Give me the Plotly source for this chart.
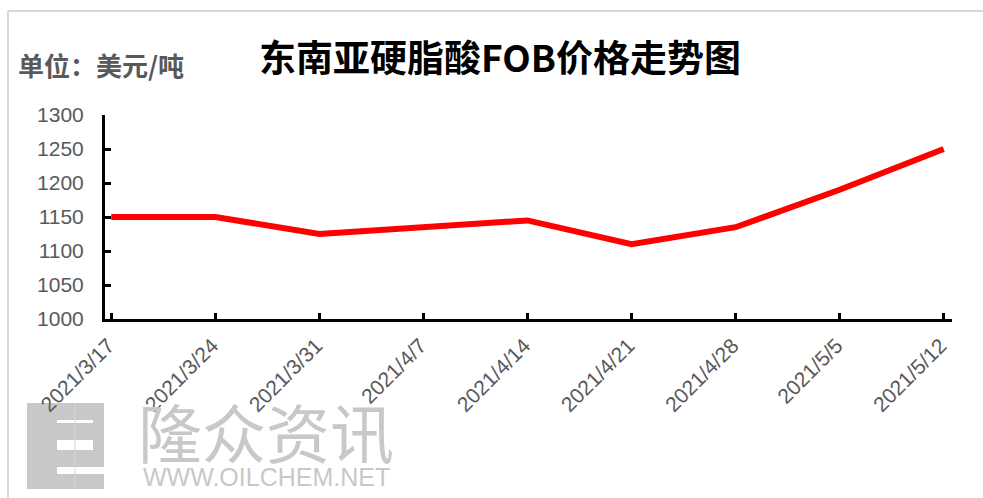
import plotly.graph_objects as go

# ---- data ----
dates = ["2021/3/17", "2021/3/24", "2021/3/31", "2021/4/7", "2021/4/14",
         "2021/4/21", "2021/4/28", "2021/5/5", "2021/5/12"]
prices = [1150, 1150, 1125, 1135, 1145, 1110, 1135, 1190, 1250]
y_ticks = [1000, 1050, 1100, 1150, 1200, 1250, 1300]

title_text = "东南亚硬脂酸FOB价格走势图"
unit_text = "单位：美元/吨"

W, H = 983, 498
L, R, T, B = 105, 31, 115, 179
PW = W - L - R
PH = H - T - B


def px(x):
    return (x - L) / PW


def py(y):
    return (H - B - y) / PH


fig = go.Figure()
fig.add_trace(go.Scatter(
    x=dates, y=prices, mode="lines",
    line=dict(color="#FF0000", width=6),
    hoverinfo="x+y", showlegend=False,
))

tick_font = dict(family="Liberation Sans, Arial, sans-serif", size=21, color="#595959")

fig.update_layout(
    width=W, height=H,
    margin=dict(l=L, r=R, t=T, b=B, pad=0, autoexpand=False),
    paper_bgcolor="white", plot_bgcolor="white",
    xaxis=dict(
        type="category", range=[-0.06, 8.08],
        showline=True, linecolor="black", linewidth=3,
        ticks="inside", ticklen=6, tickwidth=2.5, tickcolor="black",
        tickangle=-45, tickfont=tick_font, showgrid=False, zeroline=False,
        automargin=False, ticklabelstandoff=3, ticklabelshift=-3,
    ),
    yaxis=dict(
        range=[1000, 1300], tickvals=y_ticks,
        showline=True, linecolor="black", linewidth=3,
        ticks="inside", ticklen=6, tickwidth=2.5, tickcolor="black",
        tickfont=tick_font, showgrid=False, zeroline=False,
        ticklabelstandoff=14, automargin=False,
    ),
)

annotations = [
    dict(x=px(500), y=py(56), xref="paper", yref="paper", xanchor="center", yanchor="middle",
         text="<b>" + title_text + "</b>", showarrow=False,
         font=dict(family="Noto Sans CJK SC", size=37, color="black")),
    dict(x=px(16), y=py(64), xref="paper", yref="paper", xanchor="left", yanchor="middle",
         text="<b>" + unit_text + "</b>", showarrow=False,
         font=dict(family="Noto Sans CJK SC", size=26, color="#595959")),
    dict(x=px(136), y=py(430), xref="paper", yref="paper", xanchor="left", yanchor="middle",
         text="隆众资讯", showarrow=False,
         font=dict(family="Noto Sans CJK SC", size=64, color="#c8c8c8")),
    dict(x=px(141), y=py(477), xref="paper", yref="paper", xanchor="left", yanchor="middle",
         text="WWW.OILCHEM.NET", showarrow=False,
         font=dict(family="Liberation Sans, Arial", size=25, color="#c8c8c8")),
]

shapes = []
# chart border (top and left)
shapes.append(dict(type="line", xref="paper", yref="paper", x0=px(8), x1=px(983), y0=py(11), y1=py(11),
                   line=dict(color="#d9d9d9", width=2), layer="below"))
shapes.append(dict(type="line", xref="paper", yref="paper", x0=px(8), x1=px(8), y0=py(11), y1=py(498),
                   line=dict(color="#d9d9d9", width=2), layer="below"))
# logo "e"
grey = "#c8c8c8"
shapes.append(dict(type="rect", xref="paper", yref="paper", x0=px(27), x1=px(104), y0=py(403), y1=py(489),
                   fillcolor=grey, line=dict(width=0), layer="below"))
for (x0, x1, y0, y1) in [(57, 93, 420, 423), (57, 93, 440, 450), (57, 104, 467, 474)]:
    shapes.append(dict(type="rect", xref="paper", yref="paper", x0=px(x0), x1=px(x1), y0=py(y0), y1=py(y1),
                       fillcolor="white", line=dict(width=0), layer="below"))
shapes.append(dict(type="line", xref="paper", yref="paper", x0=px(75), x1=px(75), y0=py(403), y1=py(489),
                   line=dict(color="#d6d6d6", width=1), layer="below"))

fig.update_layout(annotations=annotations, shapes=shapes)

fig.write_html(
    "out.html",
    config={"displayModeBar": False},
    post_script="document.body.style.margin='0px';document.body.style.overflow='hidden';"
                "document.documentElement.style.overflow='hidden';",
    default_width="983px", default_height="498px",
)
